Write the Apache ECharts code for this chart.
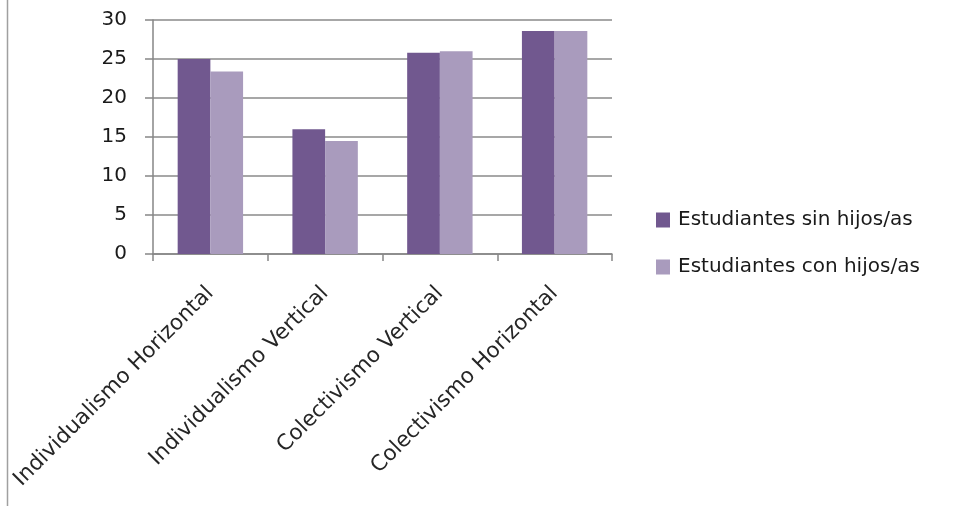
<!DOCTYPE html>
<html>
<head>
<meta charset="utf-8">
<script src="https://cdn.jsdelivr.net/npm/echarts@6/dist/echarts.min.js"></script>
<style>html,body{margin:0;padding:0;background:#fff}#c{width:953px;height:522px}</style>
</head>
<body>
<div id="c"></div>
<script>
var categories = ['Individualismo Horizontal', 'Individualismo Vertical', 'Colectivismo Vertical', 'Colectivismo Horizontal'];
var seriesNames = ['Estudiantes sin hijos/as', 'Estudiantes con hijos/as'];
var sinHijos = [25.0, 16.0, 25.8, 28.6];
var conHijos = [23.4, 14.5, 26.0, 28.6];
var yTicks = {min: 0, max: 30, interval: 5};

var font = '"DejaVu Sans", "Noto Sans", sans-serif';
var chart = echarts.init(document.getElementById('c'));
chart.setOption({
  animation: false,
  grid: {left: 153, right: 341, top: 20, bottom: 268},
  legend: {
    orient: 'vertical', left: 651, top: 205, itemWidth: 14, itemHeight: 15, itemGap: 27,
    icon: 'rect',
    textStyle: {fontFamily: font, fontSize: 20, color: '#1a1a1a', padding: [0, 0, 0, 3]},
    data: seriesNames
  },
  graphic: [{type: 'line', shape: {x1: 7.5, y1: 0, x2: 7.5, y2: 506}, style: {stroke: '#a0a0a0', lineWidth: 1.5}}],
  xAxis: {
    type: 'category', data: categories,
    axisLine: {lineStyle: {color: '#868686', width: 1.5}},
    axisTick: {show: true, length: 7, lineStyle: {color: '#868686', width: 1.5}},
    axisLabel: {rotate: 45, margin: 36, verticalAlign: 'middle', fontFamily: font, fontSize: 21.5, color: '#262626', interval: 0}
  },
  yAxis: {
    type: 'value', min: yTicks.min, max: yTicks.max, interval: yTicks.interval,
    axisLine: {show: true, lineStyle: {color: '#868686', width: 1.5}},
    axisTick: {show: true, length: 8, lineStyle: {color: '#868686', width: 1.5}},
    splitLine: {lineStyle: {color: '#8a8a8a', width: 1.5}},
    axisLabel: {fontFamily: font, fontSize: 20, color: '#1a1a1a', margin: 26}
  },
  series: [
    {name: seriesNames[0], type: 'bar', data: sinHijos, barGap: '0%', barCategoryGap: '43%', itemStyle: {color: '#71588F'}},
    {name: seriesNames[1], type: 'bar', data: conHijos, barGap: '0%', barCategoryGap: '43%', itemStyle: {color: '#A99BBD'}}
  ]
});
</script>
</body>
</html>
